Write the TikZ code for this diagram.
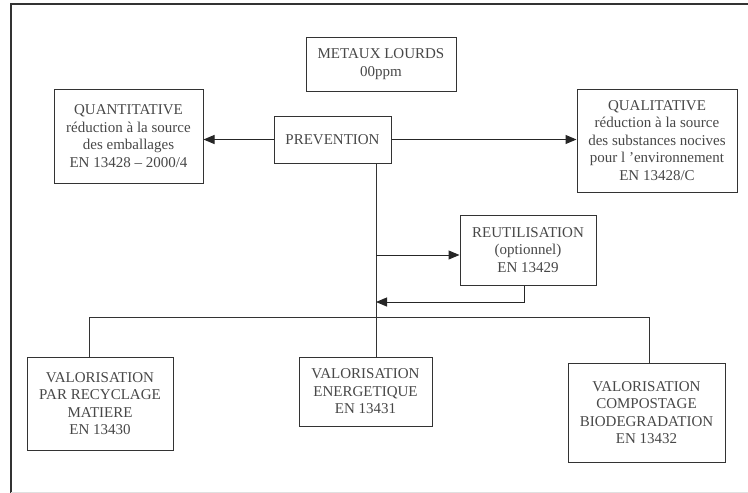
\documentclass[tikz,border=0pt]{standalone}
\usepackage{fontspec}
\setmainfont{Liberation Serif}
\usetikzlibrary{arrows.meta}

\begin{document}
\begin{tikzpicture}[x=1pt,y=-1pt,
    box/.style={draw=black!80,line width=1pt,align=center,inner sep=2pt,
      text=black!72,font=\fontsize{15}{17.5}\selectfont},
    arr/.style={draw=black!85,line width=1pt,-{Triangle[length=11pt,width=9pt]}},
    wire/.style={draw=black!80,line width=1pt}]
    \useasboundingbox (0,0) rectangle (748,493);
    % frame
    \draw[line width=1.5pt,black!80] (11,493) -- (11,4) -- (748,4);
    \draw[black!12] (11,492) -- (748,492);
    % top row
    \node[box,minimum width=150pt,minimum height=54pt] (metaux) at (381,64) {METAUX LOURDS\\00ppm};
    \node[box,minimum width=149pt,minimum height=94pt] (quanti) at (128.5,136)
      {QUANTITATIVE\\réduction à la source\\des emballages\\EN 13428 – 2000/4};
    \node[box,minimum width=117pt,minimum height=47pt] (prev) at (332.5,139.5) {PREVENTION};
    \node[box,minimum width=160pt,minimum height=103pt] (quali) at (657,140.5)
      {QUALITATIVE\\réduction à la source\\des substances nocives\\pour l 'environnement\\EN 13428/C};
    \node[box,minimum width=136pt,minimum height=70pt] (reut) at (528,250)
      {REUTILISATION\\(optionnel)\\EN 13429};
    % bottom row
    \node[box,minimum width=146pt,minimum height=93pt] (recyc) at (100,403.5)
      {VALORISATION\\PAR RECYCLAGE\\MATIERE\\EN 13430};
    \node[box,minimum width=133pt,minimum height=69pt] (energ) at (365.5,391.5)
      {VALORISATION\\ENERGETIQUE\\EN 13431};
    \node[box,minimum width=157pt,minimum height=99pt] (compost) at (646.5,412.5)
      {VALORISATION\\COMPOSTAGE\\BIODEGRADATION\\EN 13432};
    % connectors
    \coordinate (split) at (376,255);
    \coordinate (merge) at (376,302);
    \coordinate (busL) at (89,317);
    \coordinate (busR) at (649,317);
    \draw[arr] (prev.west) -- (prev.west -| quanti.east);
    \draw[arr] (prev.east) -- (prev.east -| quali.west);
    \draw[wire] (prev.south -| split) -- (energ.north -| split);
    \draw[arr] (split) -- (split -| reut.west);
    \draw[arr] ([xshift=-4pt]reut.south) |- (merge);
    \draw[wire] (recyc.north -| busL) |- (busR) -- (compost.north -| busR);
\end{tikzpicture}
\end{document}
